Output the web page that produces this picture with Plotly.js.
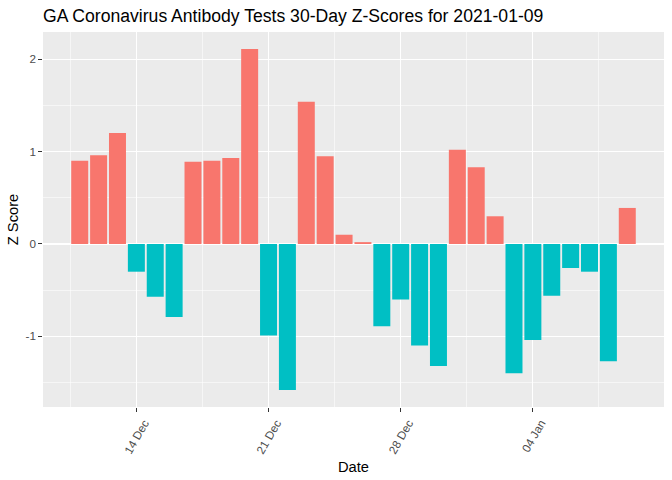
<!DOCTYPE html>
<html>
<head>
<meta charset="utf-8">
<script src="https://cdn.plot.ly/plotly-3.0.1.min.js"></script>
<style>
  html, body { margin: 0; padding: 0; background: #ffffff; }
  #chart { width: 672px; height: 480px; }
</style>
</head>
<body>
<div id="chart"></div>
<script>
// ---- data ----
const dates = [
  '2020-12-11','2020-12-12','2020-12-13','2020-12-14','2020-12-15','2020-12-16',
  '2020-12-17','2020-12-18','2020-12-19','2020-12-20','2020-12-21','2020-12-22',
  '2020-12-23','2020-12-24','2020-12-25','2020-12-26','2020-12-27','2020-12-28',
  '2020-12-29','2020-12-30','2020-12-31','2021-01-01','2021-01-02','2021-01-03',
  '2021-01-04','2021-01-05','2021-01-06','2021-01-07','2021-01-08','2021-01-09'
];
const zScores = [
  0.90, 0.96, 1.20, -0.30, -0.57, -0.79,
  0.89, 0.90, 0.93, 2.11, -0.99, -1.58,
  1.54, 0.95, 0.10, 0.02, -0.89, -0.60,
  -1.10, -1.32, 1.02, 0.83, 0.30, -1.40,
  -1.04, -0.56, -0.26, -0.30, -1.27, 0.39
];
const xTickVals = ['2020-12-14', '2020-12-21', '2020-12-28', '2021-01-04'];
const xTickText = ['14 Dec', '21 Dec', '28 Dec', '04 Jan'];
const yTickVals = [-1, 0, 1, 2];
const yTickText = ['-1', '0', '1', '2'];

const posColor = '#F8766D';
const negColor = '#00BFC4';
const DAY = 86400000;

// ggplot-style 5% expansion of the bar extents
const t0 = new Date(dates[0] + 'T00:00:00Z').getTime() - 0.45 * DAY;
const t1 = new Date(dates[dates.length - 1] + 'T00:00:00Z').getTime() + 0.45 * DAY;
const xpad = (t1 - t0) * 0.05;
const fmt = t => new Date(t).toISOString().replace('T', ' ').replace('Z', '');
const xRange = [fmt(t0 - xpad), fmt(t1 + xpad)];

const ymin = Math.min(0, ...zScores), ymax = Math.max(0, ...zScores);
const ypad = (ymax - ymin) * 0.05;
const yRange = [ymin - ypad, ymax + ypad];

const font = 'Liberation Sans, Arial, sans-serif';

const trace = {
  type: 'bar',
  x: dates,
  y: zScores,
  width: dates.map(() => 0.9 * DAY),
  marker: { color: zScores.map(v => v >= 0 ? posColor : negColor), line: { width: 0 } },
  hoverinfo: 'skip',
  showlegend: false
};

const layout = {
  width: 672,
  height: 480,
  margin: { l: 43, r: 8, t: 32, b: 73, pad: 0 },
  paper_bgcolor: '#ffffff',
  plot_bgcolor: '#EBEBEB',
  font: { family: font, color: '#000000' },
  title: {
    text: 'GA Coronavirus Antibody Tests 30-Day Z-Scores for 2021-01-09',
    font: { family: font, size: 17.6, color: '#000000' },
    xref: 'paper', x: 0, xanchor: 'left',
    yref: 'container', y: 1 - 16 / 480, yanchor: 'middle'
  },
  xaxis: {
    type: 'date',
    range: xRange,
    tickmode: 'array',
    tickvals: xTickVals,
    ticktext: xTickText,
    tickangle: -60,
    ticks: 'outside',
    ticklen: 3.7,
    tickwidth: 1,
    tickcolor: '#333333',
    tickfont: { family: font, size: 11.7, color: '#4D4D4D' },
    ticklabelshift: 8,
    showgrid: true,
    gridcolor: '#FFFFFF',
    gridwidth: 1.1,
    minor: {
      showgrid: true,
      gridcolor: '#FFFFFF',
      gridwidth: 0.55,
      tick0: '2020-12-10 12:00',
      dtick: 7 * DAY,
      ticks: ''
    },
    zeroline: false,
    showline: false,
    automargin: false,
    title: { text: 'Date', font: { family: font, size: 14.7, color: '#000000' }, standoff: 6 }
  },
  yaxis: {
    range: yRange,
    tickmode: 'array',
    tickvals: yTickVals,
    ticktext: yTickText,
    ticks: 'outside',
    ticklen: 3.7,
    tickwidth: 1,
    tickcolor: '#333333',
    tickfont: { family: font, size: 11.7, color: '#4D4D4D' },
    showgrid: true,
    gridcolor: '#FFFFFF',
    gridwidth: 1.1,
    minor: {
      showgrid: true,
      gridcolor: '#FFFFFF',
      gridwidth: 0.55,
      tick0: -1.5,
      dtick: 1,
      ticks: ''
    },
    zeroline: false,
    showline: false,
    automargin: false,
    title: { text: 'Z Score', font: { family: font, size: 14.7, color: '#000000' }, standoff: 3 }
  },
  bargap: 0.1
};

Plotly.newPlot('chart', [trace], layout, { displayModeBar: false, staticPlot: true });
</script>
</body>
</html>
